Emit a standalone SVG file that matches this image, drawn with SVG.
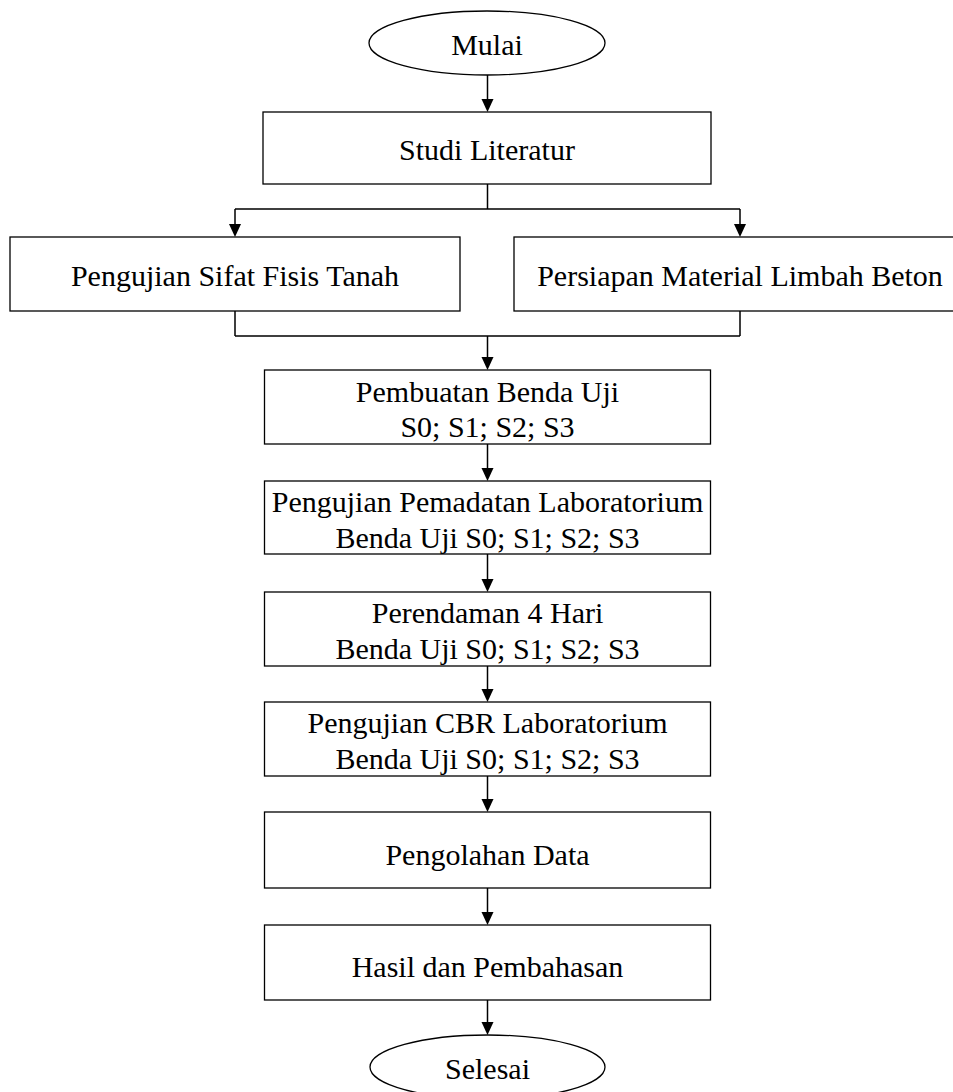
<svg xmlns="http://www.w3.org/2000/svg" width="953" height="1092" viewBox="0 0 953 1092">
<style>
.box{fill:#fff;stroke:#000;stroke-width:1.3}
.t{font-family:"Liberation Serif","Times New Roman",serif;font-size:30px;fill:#000;text-anchor:middle}
.c{fill:none;stroke:#000;stroke-width:1.5}
.ah{fill:#000}
</style>
<rect width="953" height="1092" fill="#fff"/>
<g id="connectors">
<path class="c" d="M487.5,75 V99"/>
<path class="ah" d="M481.5,99 L493.5,99 L487.5,112 Z"/>
<path class="c" d="M487.5,184 V209 M235,209 H740 M235,209 V225 M740,209 V225"/>
<path class="ah" d="M229,224 L241,224 L235,237 Z"/>
<path class="ah" d="M734,224 L746,224 L740,237 Z"/>
<path class="c" d="M235,311 V336 M740,311 V336 M235,336 H740 M487.5,336 V358"/>
<path class="ah" d="M481.5,357 L493.5,357 L487.5,370 Z"/>
<path class="c" d="M487.5,444 V469"/>
<path class="ah" d="M481.5,468 L493.5,468 L487.5,481 Z"/>
<path class="c" d="M487.5,554 V580"/>
<path class="ah" d="M481.5,579 L493.5,579 L487.5,592 Z"/>
<path class="c" d="M487.5,666 V690"/>
<path class="ah" d="M481.5,689 L493.5,689 L487.5,702 Z"/>
<path class="c" d="M487.5,776 V800"/>
<path class="ah" d="M481.5,799 L493.5,799 L487.5,812 Z"/>
<path class="c" d="M487.5,888 V913"/>
<path class="ah" d="M481.5,912 L493.5,912 L487.5,925 Z"/>
<path class="c" d="M487.5,1000 V1023"/>
<path class="ah" d="M481.5,1022 L493.5,1022 L487.5,1035 Z"/>
</g>
<g id="mulai">
<ellipse class="box" cx="487" cy="43" rx="118" ry="32"/>
<text class="t" x="487" y="55">Mulai</text>
</g>
<g id="studi">
<rect class="box" x="263" y="112" width="448" height="72"/>
<text class="t" x="487" y="160">Studi Literatur</text>
</g>
<g id="sifat">
<rect class="box" x="10" y="237" width="450" height="74"/>
<text class="t" x="235" y="286">Pengujian Sifat Fisis Tanah</text>
</g>
<g id="persiapan">
<rect class="box" x="514" y="237" width="452" height="74"/>
<text class="t" x="740" y="286">Persiapan Material Limbah Beton</text>
</g>
<g id="pembuatan">
<rect class="box" x="264.5" y="370" width="446" height="74"/>
<text class="t" x="487.5" y="402">Pembuatan Benda Uji</text>
<text class="t" x="487.5" y="437">S0; S1; S2; S3</text>
</g>
<g id="pemadatan">
<rect class="box" x="264.5" y="481" width="446" height="73"/>
<text class="t" x="487.5" y="512">Pengujian Pemadatan Laboratorium</text>
<text class="t" x="487.5" y="548">Benda Uji S0; S1; S2; S3</text>
</g>
<g id="perendaman">
<rect class="box" x="264.5" y="592" width="446" height="74"/>
<text class="t" x="487.5" y="623">Perendaman 4 Hari</text>
<text class="t" x="487.5" y="659">Benda Uji S0; S1; S2; S3</text>
</g>
<g id="cbr">
<rect class="box" x="264.5" y="702" width="446" height="74"/>
<text class="t" x="487.5" y="733">Pengujian CBR Laboratorium</text>
<text class="t" x="487.5" y="769">Benda Uji S0; S1; S2; S3</text>
</g>
<g id="pengolahan">
<rect class="box" x="264.5" y="812" width="446" height="76"/>
<text class="t" x="487.5" y="865">Pengolahan Data</text>
</g>
<g id="hasil">
<rect class="box" x="264.5" y="925" width="446" height="75"/>
<text class="t" x="487.5" y="977">Hasil dan Pembahasan</text>
</g>
<g id="selesai">
<ellipse class="box" cx="487.5" cy="1067" rx="117.5" ry="32"/>
<text class="t" x="487.5" y="1079">Selesai</text>
</g>
</svg>
